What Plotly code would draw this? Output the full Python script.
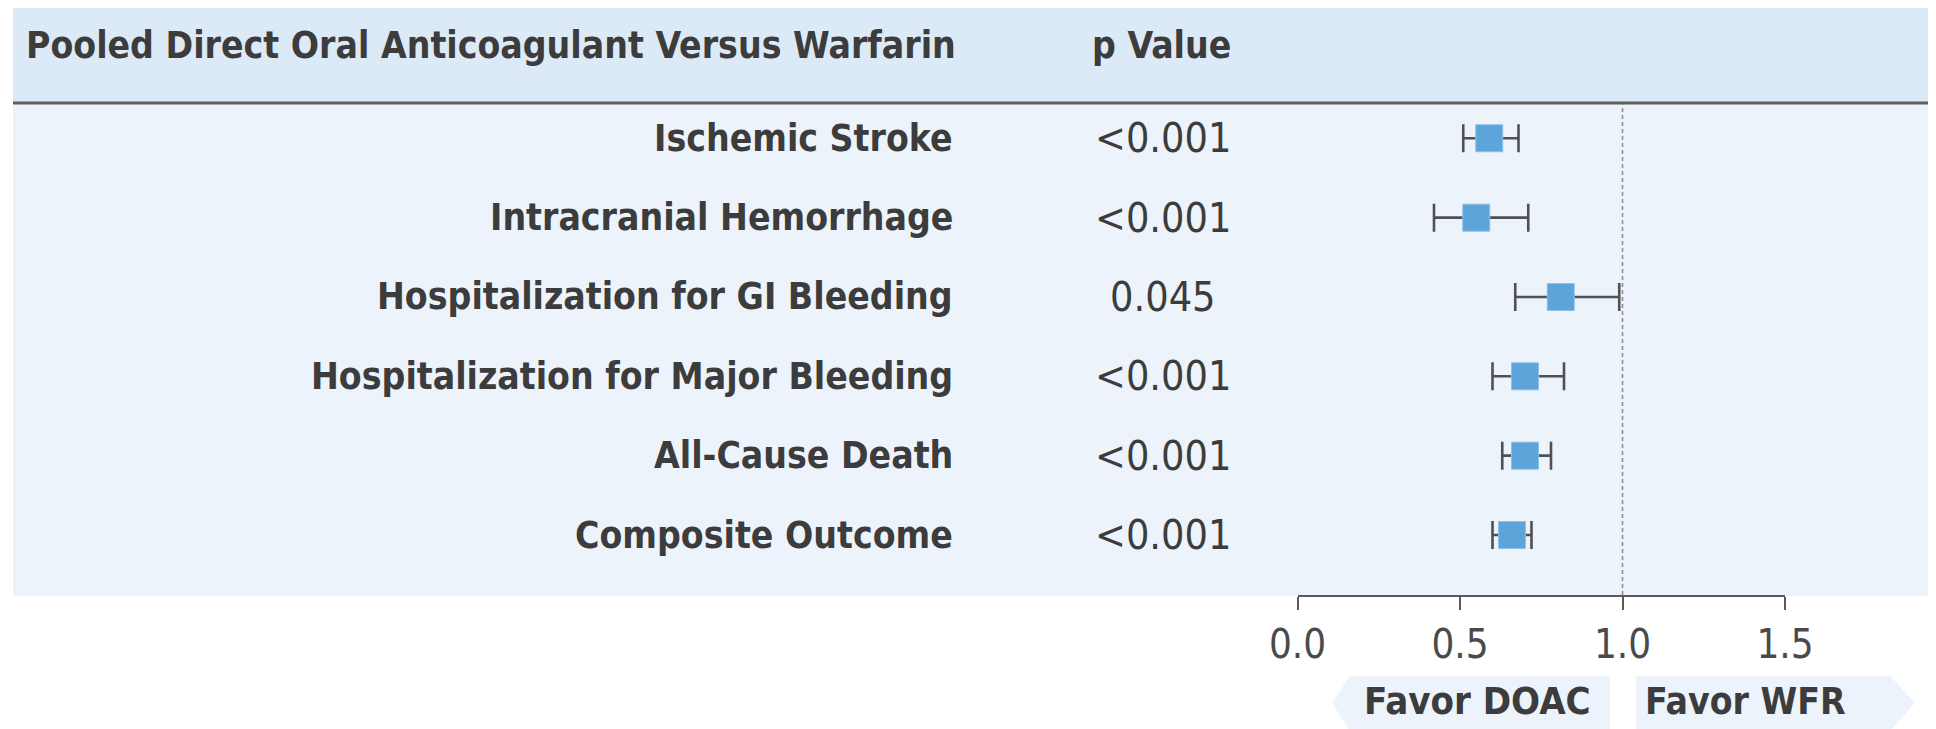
import plotly.graph_objects as go

# page body keeps a default 8px margin, so the figure is drawn 8px smaller
# and every pixel position below is measured on the 1936x729 screen
OFF = 8
W, H = 1936 - OFF, 729 - OFF

outcomes = ["Ischemic Stroke", "Intracranial Hemorrhage", "Hospitalization for GI Bleeding",
            "Hospitalization for Major Bleeding", "All-Cause Death", "Composite Outcome"]
hr = [0.59, 0.55, 0.81, 0.70, 0.70, 0.66]
ci_lo = [0.51, 0.42, 0.67, 0.60, 0.63, 0.60]
ci_hi = [0.68, 0.71, 0.99, 0.82, 0.78, 0.72]
p_values = ["<0.001", "<0.001", "0.045", "<0.001", "<0.001", "<0.001"]
tick_vals = [0, 0.5, 1.0, 1.5]
tick_text = ["0.0", "0.5", "1.0", "1.5"]

FONT = "DejaVu Sans Condensed, Liberation Sans Narrow, Roboto, sans-serif"
TXT = "#3c3c3c"

def px_x(x):
    return (x - OFF) / W

def px_y(y):
    return 1 - (y - OFF) / H

fig = go.Figure()
fig.add_trace(go.Scatter(
    x=hr, y=outcomes, mode="markers",
    marker=dict(symbol="square", size=27, color="#5ca4da", line=dict(width=1, color="#8cc0e8")),
    error_x=dict(type="data", symmetric=False,
                 array=[h - m for h, m in zip(ci_hi, hr)],
                 arrayminus=[m - l for m, l in zip(hr, ci_lo)],
                 color="#505050", thickness=2.6, width=14),
    showlegend=False, hoverinfo="skip",
))

shapes = [
    # header band
    dict(type="rect", xref="paper", yref="paper", x0=px_x(13), x1=1, y0=px_y(102), y1=px_y(5),
         fillcolor="#dce9f6", line_width=0, layer="below"),
    # body panel
    dict(type="rect", xref="paper", yref="paper", x0=px_x(13), x1=1, y0=px_y(596), y1=px_y(104),
         fillcolor="#ecf3fb", line_width=0, layer="below"),
    # separator
    dict(type="line", xref="paper", yref="paper", x0=px_x(13), x1=1, y0=px_y(103), y1=px_y(103),
         line=dict(color="#5e5e5e", width=3)),
    # null line
    dict(type="line", xref="x", yref="y domain", x0=1, x1=1, y0=0, y1=1,
         line=dict(color="#8f8f8f", width=1.6, dash="4px,3px")),
    # favor arrows
    dict(type="path", xref="paper", yref="paper",
         path="M {} {} L {} {} L {} {} L {} {} L {} {} Z".format(
             px_x(1332), px_y(703), px_x(1350), px_y(676), px_x(1610), px_y(676),
             px_x(1610), px_y(731), px_x(1350), px_y(731)),
         fillcolor="#ecf3fb", line_width=0, layer="below"),
    dict(type="path", xref="paper", yref="paper",
         path="M {} {} L {} {} L {} {} L {} {} L {} {} Z".format(
             px_x(1636), px_y(676), px_x(1890), px_y(676), px_x(1915), px_y(703),
             px_x(1890), px_y(731), px_x(1636), px_y(731)),
         fillcolor="#ecf3fb", line_width=0, layer="below"),
]

ann = [
    dict(text="Pooled Direct Oral Anticoagulant Versus Warfarin", x=px_x(24), y=px_y(46),
         xanchor="left", font=dict(size=37, weight="bold")),
    dict(text="p Value", x=px_x(1161), y=px_y(46), xanchor="center", font=dict(size=37, weight="bold")),
    dict(text="Favor DOAC", x=px_x(1477), y=px_y(701), xanchor="center", font=dict(size=38, weight="bold")),
    dict(text="Favor WFR", x=px_x(1745), y=px_y(701), xanchor="center", font=dict(size=37, weight="bold")),
]
for name, p in zip(outcomes, p_values):
    ann.append(dict(text=name, x=px_x(955), y=name, yref="y", xanchor="right",
                    font=dict(size=37, weight="bold")))
    ann.append(dict(text=p, x=px_x(1163), y=name, yref="y", xanchor="center",
                    font=dict(size=41, weight="normal")))
for a in ann:
    a.setdefault("xref", "paper")
    a.setdefault("yref", "paper")
    a["yanchor"] = "middle"
    a["showarrow"] = False
    a["font"].update(family=FONT, color=TXT)

fig.update_layout(
    width=W, height=H, autosize=False,
    margin=dict(l=0, r=0, t=0, b=0, pad=0, autoexpand=False),
    paper_bgcolor="white", plot_bgcolor="rgba(0,0,0,0)",
    shapes=shapes, annotations=ann,
    xaxis=dict(domain=[px_x(1297.5), px_x(1785)], range=[0, 1.5], showgrid=False, zeroline=False,
               automargin=False,
               showline=True, linecolor="#5a5a5a", linewidth=2, ticks="outside", ticklen=13,
               tickwidth=2, tickcolor="#5a5a5a", tickvals=tick_vals, ticktext=tick_text,
               tickfont=dict(family=FONT, size=40, color="#4a4a4a")),
    yaxis=dict(domain=[px_y(595), px_y(104)], type="category", categoryorder="array",
               categoryarray=outcomes, range=[5.756, -0.432], showgrid=False, zeroline=False,
               automargin=False,
               showline=False, showticklabels=False, ticks=""),
)

fig.write_html("out.html")
